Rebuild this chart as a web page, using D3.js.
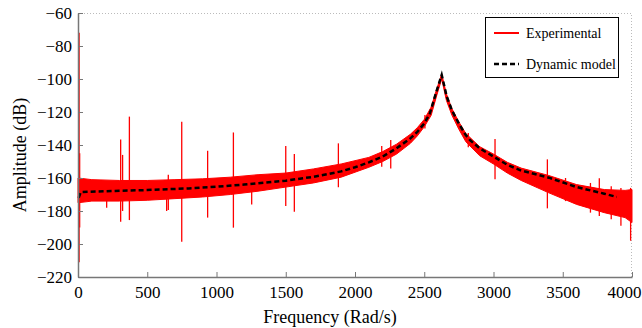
<!DOCTYPE html>
<html>
<head>
<meta charset="utf-8">
<script src="https://cdn.jsdelivr.net/npm/d3@7"></script>
<style>
  body { margin: 0; background: #fff; }
  text { font-family: "Liberation Serif", "Times New Roman", serif; }
</style>
</head>
<body>
<div class="canvas"></div>
<script>
// experimental spectrum, read as an upper/lower envelope of the noisy trace
const expFreq = [0, 100, 300, 500, 700, 900, 1100, 1300, 1500, 1700, 1900, 2000, 2100, 2200, 2300, 2400, 2450, 2500, 2550, 2590, 2626, 2660, 2700, 2750, 2800, 2900, 3000, 3100, 3200, 3400, 3600, 3800, 3950, 4000];
const expUpper = [-160, -161, -161.5, -161.5, -161, -160.5, -159.5, -158, -157, -154.5, -151.5, -149.5, -147.5, -144, -139.5, -133.5, -129.5, -124.5, -117, -106, -97, -109, -118, -126, -133, -141, -145.5, -150.5, -154, -158.5, -164, -167, -167.5, -167];
const expLower = [-175, -174, -174, -173.5, -172.5, -171.5, -170, -168, -165.5, -163, -159.5, -156.5, -153.5, -150, -145.5, -139, -134.5, -129, -122, -110, -100, -113, -122, -130.5, -138, -146.5, -151.5, -157, -161.5, -169, -176, -181, -184, -187];

// isolated spikes in the experimental trace
const spikeFreq = [8, 12, 207, 308, 322, 371, 640, 652, 749, 936, 1122, 1254, 1500, 1562, 1880, 2193, 2258, 2505, 2818, 3011, 3389, 3520, 3700, 3764, 3850, 3920, 3990];
const spikeTop = [-72, -145, -165, -136.6, -146, -122.8, -165, -158, -125.9, -143.5, -132.4, -166, -140.6, -145.5, -139, -140.6, -137, -121.8, -132.7, -136.4, -148.7, -160, -163, -160.2, -165, -166, -166];
const spikeBottom = [-211, -190, -178, -186.5, -180, -185.5, -180, -179.4, -198.6, -184, -190.1, -176, -177, -180.4, -165.6, -153.2, -154.2, -130, -141.4, -160.8, -178.4, -174, -181, -183, -185, -189, -198];

// dynamic model curve
const modelFreq = [5, 20, 200, 500, 800, 1000, 1200, 1500, 1700, 1900, 2000, 2100, 2200, 2300, 2400, 2450, 2500, 2540, 2590, 2626, 2662, 2700, 2750, 2800, 2830, 2900, 3000, 3100, 3200, 3400, 3600, 3800, 3890];
const modelAmp = [-172, -168.5, -168, -167.3, -166.3, -165.3, -164, -161.6, -159.3, -156, -153.5, -150.5, -147, -142, -136, -132, -127, -121, -107, -97.5, -110.5, -119, -127, -134, -137, -142, -147, -152, -155.5, -159.8, -165.5, -169.5, -171.5];

const xTicks = [0, 500, 1000, 1500, 2000, 2500, 3000, 3500, 4000];
const yTicks = [-220, -200, -180, -160, -140, -120, -100, -80, -60];

const margin = { top: 13, right: 10, bottom: 51, left: 78 };
const width = 642, height = 328;
const graphWidth = width - margin.left - margin.right;
const graphHeight = height - margin.top - margin.bottom;

const svg = d3.select(".canvas").append("svg")
  .attr("width", width)
  .attr("height", height);

const graph = svg.append("g")
  .attr("transform", `translate(${margin.left}, ${margin.top})`);

const x = d3.scaleLinear().domain([0, 4000]).range([0, graphWidth]);
const y = d3.scaleLinear().domain([-220, -60]).range([graphHeight, 0]);

// dotted box on top and right
graph.append("path")
  .attr("d", `M0,0.5H${graphWidth - 0.5}V${graphHeight}`)
  .attr("fill", "none")
  .attr("stroke", "#bbb")
  .attr("stroke-dasharray", "1,2");

// experimental band
const expData = expFreq.map((f, i) => ({ f, hi: expUpper[i], lo: expLower[i] }));
const band = d3.area()
  .x((d) => x(d.f))
  .y0((d) => y(d.lo))
  .y1((d) => y(d.hi));

graph.append("path")
  .datum(expData)
  .attr("d", band)
  .attr("fill", "#ff0000")
  .attr("stroke", "#ff0000")
  .attr("stroke-width", 1);

graph.selectAll(".spike")
  .data(spikeFreq)
  .enter()
  .append("line")
  .attr("class", "spike")
  .attr("x1", (d) => x(d))
  .attr("x2", (d) => x(d))
  .attr("y1", (d, i) => y(spikeTop[i]))
  .attr("y2", (d, i) => y(spikeBottom[i]))
  .attr("stroke", "#ff0000")
  .attr("stroke-width", 1.3);

// dynamic model
const line = d3.line()
  .x((d, i) => x(modelFreq[i]))
  .y((d) => y(d));

graph.append("path")
  .datum(modelAmp)
  .attr("d", line)
  .attr("fill", "none")
  .attr("stroke", "#000")
  .attr("stroke-width", 2.5)
  .attr("stroke-dasharray", "5,3");

// axes
const xAxis = d3.axisBottom(x).tickValues(xTicks).tickFormat(d3.format("d"))
  .tickSizeInner(-5).tickSizeOuter(0).tickPadding(9);
const yAxis = d3.axisLeft(y).tickValues(yTicks).tickFormat(d3.format("d"))
  .tickSizeInner(-5).tickSizeOuter(0).tickPadding(6);

const xAxisGroup = graph.append("g")
  .attr("transform", `translate(0, ${graphHeight})`)
  .call(xAxis);
const yAxisGroup = graph.append("g").call(yAxis);

[xAxisGroup, yAxisGroup].forEach((g) => {
  g.attr("font-family", "Liberation Serif").attr("font-size", 17);
  g.select(".domain").attr("stroke", "#777").attr("stroke-width", 1.5);
  g.selectAll(".tick line").attr("stroke", "#777");
  g.selectAll("text").attr("fill", "#000");
});

// last x label sits pulled in from the right edge
xAxisGroup.selectAll(".tick text")
  .filter((d) => d === 4000)
  .attr("dx", -8);

// axis titles
svg.append("text")
  .attr("x", 330)
  .attr("y", 323)
  .attr("text-anchor", "middle")
  .style("font-size", "18px")
  .text("Frequency (Rad/s)");

svg.append("text")
  .attr("transform", "translate(26, 155) rotate(-90)")
  .attr("text-anchor", "middle")
  .style("font-size", "18px")
  .text("Amplitude (dB)");

// legend
const legend = svg.append("g");
legend.append("rect")
  .attr("x", 485.5)
  .attr("y", 17.5)
  .attr("width", 133)
  .attr("height", 60)
  .attr("fill", "#fff")
  .attr("stroke", "#000");

legend.append("line")
  .attr("x1", 494).attr("x2", 519)
  .attr("y1", 33).attr("y2", 33)
  .attr("stroke", "#ff0000")
  .attr("stroke-width", 2);

legend.append("line")
  .attr("x1", 494).attr("x2", 519)
  .attr("y1", 64).attr("y2", 64)
  .attr("stroke", "#000")
  .attr("stroke-width", 2.5)
  .attr("stroke-dasharray", "5,3");

legend.append("text")
  .attr("x", 526).attr("y", 38)
  .style("font-size", "14px")
  .text("Experimental");

legend.append("text")
  .attr("x", 526).attr("y", 69)
  .style("font-size", "14px")
  .text("Dynamic model");
</script>
</body>
</html>
